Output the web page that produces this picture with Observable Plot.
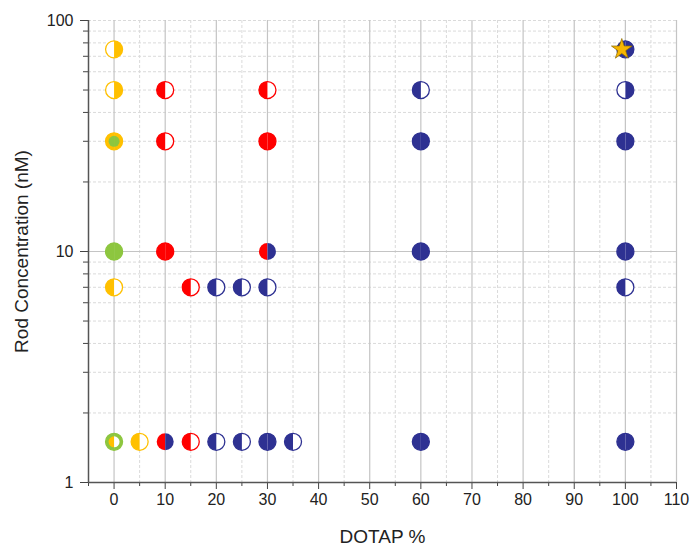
<!DOCTYPE html>
<html><head><meta charset="utf-8">
<script src="https://cdn.jsdelivr.net/npm/d3@7"></script>
<script src="https://cdn.jsdelivr.net/npm/@observablehq/plot@0.6"></script>
<style>body{margin:0;background:#fff;font-family:"Liberation Sans",Arial,sans-serif}</style>
</head><body><div id="chart"></div>
<script>
// Data
const dotapPct = [0,0,0,0,0,0,5,10,10,10,10,15,15,20,20,25,25,30,30,30,30,30,35,60,60,60,60,100,100,100,100,100,100];
const rodNM    = [75,50,30,10,7,1.5,1.5,50,30,10,1.5,7,1.5,7,1.5,7,1.5,50,30,10,7,1.5,1.5,50,30,10,1.5,75,50,30,10,7,1.5];
// fill of left half / right half of each marker, outline ring, inner circle fills
const leftFill  = ["white","white","yellow","green","yellow","green","yellow","red","red","red","red","red","red","blue","blue","blue","blue","red","red","red","blue","blue","blue","blue","blue","blue","blue","blue","white","blue","blue","blue","blue"];
const rightFill = ["yellow","yellow","yellow","green","white","green","white","white","white","red","blue","white","white","white","white","white","white","white","red","blue","white","blue","white","white","blue","blue","blue","blue","blue","blue","blue","white","blue"];
const ringColor = ["yellow","yellow","yellow","green","yellow","green","yellow","red","red","red","none","red","red","blue","blue","blue","blue","red","red","none","blue","blue","blue","blue","blue","blue","blue","blue","blue","blue","blue","blue","blue"];
const innerLeft  = ["","","green","","","yellow","","","","","","","","","","","","","","","","","","","","","","","","","","",""];
const innerRight = ["","","green","","","white","","","","","","","","","","","","","","","","","","","","","","","","","","",""];
const starX = [99.3];
const starY = [75];
const xMajorTicks = [0,10,20,30,40,50,60,70,80,90,100,110];
const xMinorTicks = [-5,5,15,25,35,45,55,65,75,85,95,105];
const yMajorTicks = [1,10,100];
const yMinorTicks = [2,3,4,5,6,7,8,9,20,30,40,50,60,70,80,90];

const palette = {yellow:"#FFC000", red:"#FF0000", blue:"#2E3192", green:"#8DC63F", white:"#FFFFFF", none:"none"};

const points = dotapPct.map((x, i) => ({
  x, y: rodNM[i],
  left: palette[leftFill[i]], right: palette[rightFill[i]], ring: palette[ringColor[i]],
  innerL: innerLeft[i] ? palette[innerLeft[i]] : null,
  innerR: innerRight[i] ? palette[innerRight[i]] : null
}));
const stars = starX.map((x, i) => ({x, y: starY[i]}));

const leftHalf = {draw(ctx, size) {
  const r = Math.sqrt(size / Math.PI);
  ctx.moveTo(0, -r); ctx.arc(0, 0, r, -Math.PI/2, Math.PI/2, true); ctx.closePath();
}};
const rightHalf = {draw(ctx, size) {
  const r = Math.sqrt(size / Math.PI);
  ctx.moveTo(0, -r); ctx.arc(0, 0, r, -Math.PI/2, Math.PI/2, false); ctx.closePath();
}};

const R = 8.5;
const plot = Plot.plot({
  width: 692, height: 550,
  marginLeft: 88, marginRight: 16, marginTop: 20, marginBottom: 68,
  style: {fontFamily: "'Liberation Sans', Arial, sans-serif", fontSize: "16px", color: "#222", background: "#fff"},
  x: {domain: [-5, 110]},
  y: {type: "log", domain: [1, 100]},
  color: {type: "identity"},
  marks: [
    Plot.ruleX(xMinorTicks.filter(d => d > -5), {stroke: "#dadada", strokeDasharray: "3,2", strokeWidth: 1}),
    Plot.ruleY(yMinorTicks.concat([100]), {stroke: "#dadada", strokeDasharray: "3,2", strokeWidth: 1}),
    Plot.ruleX(xMajorTicks, {stroke: "#c4c4c4", strokeWidth: 1.2}),
    Plot.ruleY([10], {stroke: "#c4c4c4", strokeWidth: 1.2}),
    Plot.axisX({ticks: xMajorTicks, tickSize: 7, tickPadding: 4, fontSize: 16, stroke: "#444",
      label: "DOTAP %", labelAnchor: "center", labelArrow: "none", labelOffset: 60}),
    Plot.axisX({ticks: xMinorTicks, tickSize: 4, tickFormat: () => "", stroke: "#444", label: null}),
    Plot.axisY({ticks: yMajorTicks, tickSize: 8, tickPadding: 7, fontSize: 16, stroke: "#444", tickFormat: d => String(d),
      label: "Rod Concentration (nM)", labelAnchor: "center", labelArrow: "none", labelOffset: 74}),
    Plot.axisY({ticks: yMinorTicks, tickSize: 5, tickFormat: () => "", stroke: "#444", label: null}),
    Plot.ruleX([-5], {stroke: "#555", strokeWidth: 1.5}),
    Plot.ruleY([1], {stroke: "#555", strokeWidth: 1.5}),
    // base circle (white interior + colored ring)
    Plot.dot(points, {x: "x", y: "y", r: R, fill: "#fff", stroke: "ring", strokeWidth: 1.3}),
    Plot.dot(points.filter(d => d.left !== "#FFFFFF"), {x: "x", y: "y", r: R, symbol: leftHalf, fill: "left"}),
    Plot.dot(points.filter(d => d.right !== "#FFFFFF"), {x: "x", y: "y", r: R, symbol: rightHalf, fill: "right"}),
    Plot.dot(points.filter(d => d.innerL), {x: "x", y: "y", r: 5.5, symbol: leftHalf, fill: "innerL"}),
    Plot.dot(points.filter(d => d.innerR), {x: "x", y: "y", r: 5.5, symbol: rightHalf, fill: "innerR"}),
    Plot.dot(stars, {x: "x", y: "y", r: 6.5, symbol: "star", fill: "#F7B500", stroke: "#8a6a00", strokeWidth: 0.7})
  ]
});
plot.querySelectorAll('[aria-label="y-axis label"] text, [aria-label="x-axis label"] text').forEach(t => t.setAttribute("font-size", 19));
document.getElementById("chart").appendChild(plot);
</script>
</body></html>
